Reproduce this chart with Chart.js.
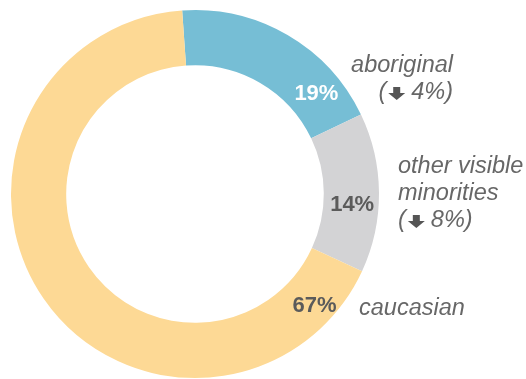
<!DOCTYPE html>
<html>
<head>
<meta charset="utf-8">
<script src="https://cdn.jsdelivr.net/npm/chart.js@4/dist/chart.umd.min.js"></script>
<style>
  html, body { margin: 0; padding: 0; background: #ffffff; }
  #wrap { width: 526px; height: 379px; position: relative; }
</style>
</head>
<body>
<div id="wrap"><canvas id="c" width="526" height="379"></canvas></div>
<script>
// Share of population by group (percent)
const categories = ['aboriginal', 'other visible minorities', 'caucasian'];
const shares = [19, 14, 67];
const changeNotes = ['4%', '8%', null];
const sliceColors = ['#76bed5', '#d3d3d5', '#fdd995'];
const valueColors = ['#ffffff', '#5b5b5b', '#5b5b5b'];

// Filled down arrow drawn between "(" and the change figure
function downArrow(ctx, left, baseline) {
  const w = 17, stem = 7;
  const top = baseline - 12, neck = baseline - 6, tip = baseline + 1;
  const mid = left + w / 2;
  ctx.beginPath();
  ctx.moveTo(mid - stem / 2, top);
  ctx.lineTo(mid + stem / 2, top);
  ctx.lineTo(mid + stem / 2, neck);
  ctx.lineTo(left + w, neck);
  ctx.lineTo(mid, tip);
  ctx.lineTo(left, neck);
  ctx.lineTo(mid - stem / 2, neck);
  ctx.closePath();
  ctx.fill();
  return w;
}

// "( ⬇ n%)" line; x is the left edge
function changeLine(ctx, x, baseline, note) {
  ctx.textAlign = 'left';
  ctx.fillText('(', x, baseline);
  let cx = x + ctx.measureText('(').width + 2;
  ctx.save();
  ctx.fillStyle = '#555555';
  cx += downArrow(ctx, cx, baseline) + 6;
  ctx.restore();
  ctx.fillText(note + ')', cx, baseline);
  return cx + ctx.measureText(note + ')').width - x;
}

function changeLineWidth(ctx, note) {
  return ctx.measureText('(').width + 2 + 17 + 6 + ctx.measureText(note + ')').width;
}

// Value labels sit at a chosen point along each slice; category labels sit beside the ring
const ringLabels = {
  id: 'ringLabels',
  afterDatasetsDraw(chart, args, opts) {
    const ctx = chart.ctx;
    const meta = chart.getDatasetMeta(0);
    ctx.save();
    ctx.textBaseline = 'alphabetic';
    ctx.textAlign = 'center';
    ctx.font = 'bold 22px "Liberation Sans", Arial, sans-serif';
    meta.data.forEach((arc, i) => {
      const p = arc.getProps(['x', 'y', 'startAngle', 'endAngle', 'innerRadius', 'outerRadius'], true);
      const a = p.startAngle + opts.along[i] * (p.endAngle - p.startAngle);
      const r = (p.innerRadius + p.outerRadius) / 2 + opts.radial[i];
      ctx.fillStyle = valueColors[i];
      ctx.fillText(shares[i] + '%', p.x + r * Math.cos(a), p.y + r * Math.sin(a) + 8);
    });

    const c = meta.data[0];
    const cx = c.x, cy = c.y;
    ctx.fillStyle = '#676767';
    ctx.font = 'italic 23.5px "Liberation Sans", Arial, sans-serif';
    // aboriginal: right aligned block
    ctx.textAlign = 'right';
    ctx.fillText(categories[0], cx + 258, cy - 122);
    changeLine(ctx, cx + 258 - changeLineWidth(ctx, changeNotes[0]), cy - 95, changeNotes[0]);
    // other visible minorities: left aligned block
    ctx.textAlign = 'left';
    ctx.fillText('other visible', cx + 203, cy - 21);
    ctx.fillText('minorities', cx + 203, cy + 6);
    changeLine(ctx, cx + 203, cy + 33, changeNotes[1]);
    // caucasian
    ctx.textAlign = 'left';
    ctx.fillText(categories[2], cx + 164, cy + 121);
    ctx.restore();
  }
};

new Chart(document.getElementById('c'), {
  type: 'doughnut',
  data: {
    labels: categories,
    datasets: [{
      data: shares,
      backgroundColor: sliceColors,
      borderWidth: 0,
      hoverOffset: 0
    }]
  },
  options: {
    responsive: false,
    animation: false,
    rotation: -4,
    cutout: '70%',
    layout: { padding: { left: 11, top: 10, right: 147, bottom: 1 } },
    plugins: {
      legend: { display: false },
      tooltip: { enabled: false },
      ringLabels: {
        along: [0.79, 0.57, 0.074],
        radial: [2, 1, 6]
      }
    }
  },
  plugins: [ringLabels]
});
</script>
</body>
</html>
